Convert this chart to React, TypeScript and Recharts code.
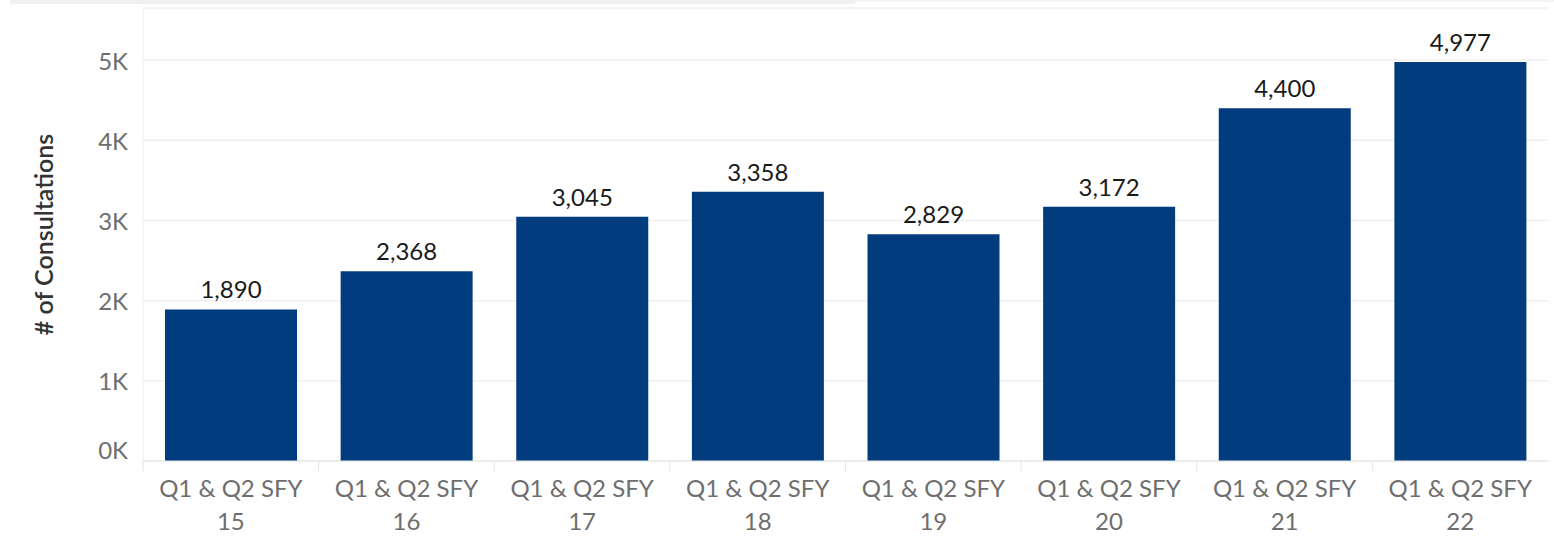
import React from "react"
import { BarChart, Bar, XAxis, YAxis, CartesianGrid, LabelList } from "recharts"

const periods = ["15", "16", "17", "18", "19", "20", "21", "22"]
const consultations = [1890, 2368, 3045, 3358, 2829, 3172, 4400, 4977]
const yTicks = [0, 1000, 2000, 3000, 4000, 5000]

const data = periods.map((p, i) => ({ period: p, value: consultations[i] }))

const W = 1554
const H = 540
const PLOT_LEFT = 143
const PLOT_RIGHT = 6
const BAND = (W - PLOT_LEFT - PLOT_RIGHT) / periods.length
const FONT = "Lato, 'Open Sans', sans-serif"

function PeriodTick(props: any) {
  const { x, y, payload } = props
  return (
    <g>
      <line x1={x - BAND / 2} x2={x - BAND / 2} y1={y} y2={y + 10} stroke="#e6e6e6" />
      <text x={x} y={y + 36} textAnchor="middle" fill="#6e6e6e" fontSize={24} fontFamily={FONT}>
        Q1 &amp; Q2 SFY
      </text>
      <text x={x} y={y + 69} textAnchor="middle" fill="#6e6e6e" fontSize={24} fontFamily={FONT}>
        {payload.value}
      </text>
    </g>
  )
}

// the 0K label sits a little above its gridline, like the original
function ValueTick(props: any) {
  const { x, y, payload } = props
  const shift = payload.value === 0 ? -11 : 1
  return (
    <text x={x} y={y + shift} dy="0.355em" textAnchor="end" fill="#6e6e6e" fontSize={24} fontFamily={FONT}>
      {`${payload.value / 1000}K`}
    </text>
  )
}

export default function App() {
  return (
    <div style={{ position: "absolute", left: 0, top: 0, width: W, height: H, background: "#fff" }}>
      <div style={{ position: "absolute", left: 10, top: 0, width: 845, height: 4, background: "#f0f0f0" }} />
      <div style={{ position: "absolute", left: 855, top: 0, width: 699, height: 2, background: "#f4f4f4" }} />
      <BarChart
        width={W}
        height={H}
        data={data}
        margin={{ top: 8, right: PLOT_RIGHT, left: 0, bottom: 0 }}
        style={{ fontFamily: FONT }}
      >
        <CartesianGrid stroke="#efefef" strokeWidth={1.5} vertical={false} />
        <XAxis
          dataKey="period"
          axisLine={{ stroke: "#e6e6e6" }}
          tickLine={false}
          tickSize={0}
          tickMargin={0}
          tick={<PeriodTick />}
          height={79}
          interval={0}
        />
        <YAxis
          width={PLOT_LEFT}
          domain={[0, 5650]}
          ticks={yTicks}
          axisLine={{ stroke: "#efefef" }}
          tickLine={false}
          tickMargin={9}
          tick={<ValueTick />}
          label={{
            value: "# of Consultations",
            angle: -90,
            position: "center",
            dx: -27,
            fill: "#333",
            fontSize: 25,
            fontWeight: 600,
            fontFamily: FONT,
          }}
        />
        <Bar dataKey="value" fill="#003c7e" barSize={132} isAnimationActive={false}>
          <LabelList
            dataKey="value"
            position="top"
            offset={11}
            fill="#1a1a1a"
            fontSize={24}
            fontFamily={FONT}
            formatter={(v: any) => Number(v).toLocaleString("en-US")}
          />
        </Bar>
      </BarChart>
    </div>
  )
}
